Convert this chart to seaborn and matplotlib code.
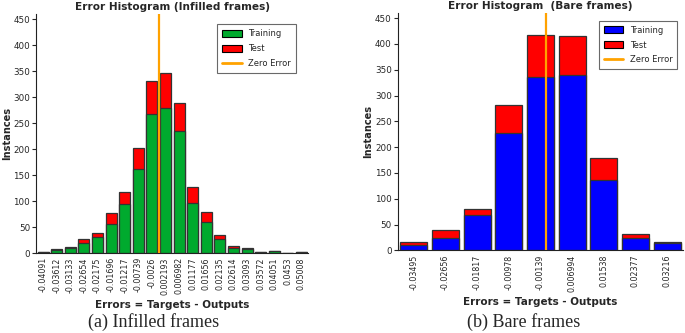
import numpy as np
import pandas as pd
import seaborn as sns
import matplotlib.pyplot as plt
from matplotlib.patches import Patch
from matplotlib.lines import Line2D

# infilled frames histogram (bin centres, training / test counts)
inf_bins = [-0.04091, -0.03612, -0.03133, -0.02654, -0.02175, -0.01696, -0.01217,
            -0.00739, -0.0026, 0.002193, 0.006982, 0.01177, 0.01656, 0.02135,
            0.02614, 0.03093, 0.03572, 0.04051, 0.0453, 0.05008]
inf_labels = ["-0.04091", "-0.03612", "-0.03133", "-0.02654", "-0.02175", "-0.01696",
              "-0.01217", "-0.00739", "-0.0026", "0.002193", "0.006982", "0.01177",
              "0.01656", "0.02135", "0.02614", "0.03093", "0.03572", "0.04051",
              "0.0453", "0.05008"]
inf_train = [2, 6, 10, 20, 30, 55, 95, 161, 268, 280, 234, 97, 60, 27, 10, 7, 3, 4, 1, 2]
inf_test = [1, 1, 2, 7, 9, 23, 22, 42, 63, 67, 54, 30, 19, 7, 3, 3, 0, 0, 0, 0]

# bare frames histogram
bare_bins = [-0.03495, -0.02656, -0.01817, -0.00978, -0.00139, 0.006994, 0.01538,
             0.02377, 0.03216]
bare_labels = ["-0.03495", "-0.02656", "-0.01817", "-0.00978", "-0.00139",
               "0.006994", "0.01538", "0.02377", "0.03216"]
bare_train = [10, 25, 68, 227, 336, 339, 136, 24, 15]
bare_test = [6, 15, 12, 54, 81, 76, 44, 8, 1]

sns.set_style("white")
plt.rcParams['font.family'] = ['DejaVu Sans']

GREEN = "#00aa2e"
RED = "#ff0000"
BLUE = "#0000ff"
ORANGE = "#ffa200"
EDGE = "#333333"

fig = plt.figure(figsize=(6.85, 3.33), dpi=100)
ax1 = fig.add_axes([0.053, 0.240, 0.397, 0.718])
ax2 = fig.add_axes([0.581, 0.248, 0.416, 0.713])


def draw(ax, bins, labels, train, test, train_color, width, title,
         legend_anchor, ylabel_x):
    df = pd.DataFrame({"bin": bins, "train": train,
                       "total": np.array(train) + np.array(test)})
    # red = train + test, green/blue training part drawn over it
    sns.barplot(data=df, x="bin", y="total", native_scale=True, color=RED,
                saturation=1, width=width, edgecolor=EDGE, linewidth=0.9, ax=ax)
    sns.barplot(data=df, x="bin", y="train", native_scale=True, color=train_color,
                saturation=1, width=width, edgecolor=EDGE, linewidth=0.9, ax=ax)
    ax.axvline(0, color=ORANGE, lw=1.6, zorder=5)
    step = np.min(np.diff(bins))
    ax.set_xlim(bins[0] - 0.5 * step, bins[-1] + 0.5 * step)
    ax.set_ylim(0, 460)
    ax.set_yticks(range(0, 451, 50))
    ax.set_xticks(bins)
    ax.set_xticklabels(labels, rotation=90, fontsize=5.7)
    ax.tick_params(axis="y", labelsize=6.3, direction="out", length=3, left=True,
                   pad=1.5)
    ax.tick_params(axis="x", length=0, pad=3)
    ax.set_xlabel("Errors = Targets - Outputs", fontsize=7.5, fontweight="bold",
                  labelpad=4)
    ax.set_ylabel("Instances", fontsize=7.1, fontweight="bold")
    ax.yaxis.set_label_coords(ylabel_x, 0.5)
    ax.set_title(title, fontsize=7.6, fontweight="bold", pad=3)
    sns.despine(ax=ax)
    for s in ("left", "bottom"):
        ax.spines[s].set_color("#222222")
        ax.spines[s].set_linewidth(0.8)
    handles = [Patch(facecolor=train_color, edgecolor="black", lw=0.8),
               Patch(facecolor=RED, edgecolor="black", lw=0.8),
               Line2D([], [], color=ORANGE, lw=2)]
    leg = ax.legend(handles, ["Training", "Test", "Zero Error"], loc="upper right",
                    bbox_to_anchor=legend_anchor, fontsize=6, frameon=True,
                    fancybox=False, handlelength=2.3, handleheight=0.9,
                    labelspacing=0.7, borderpad=0.6)
    leg.get_frame().set_edgecolor("#444444")
    leg.get_frame().set_linewidth(0.8)


draw(ax1, inf_bins, inf_labels, inf_train, inf_test, GREEN, 0.8,
     "Error Histogram (Infilled frames)", (0.97, 0.975), -0.088)
draw(ax2, bare_bins, bare_labels, bare_train, bare_test, BLUE, 0.85,
     "Error Histogram  (Bare frames)", (0.995, 0.985), -0.088)

fig.text(0.224, 0.032, "(a) Infilled frames", ha="center", va="center",
         fontsize=13, family="Liberation Serif")
fig.text(0.765, 0.032, "(b) Bare frames", ha="center", va="center",
         fontsize=13, family="Liberation Serif")

fig.savefig("out.png", dpi=100)
